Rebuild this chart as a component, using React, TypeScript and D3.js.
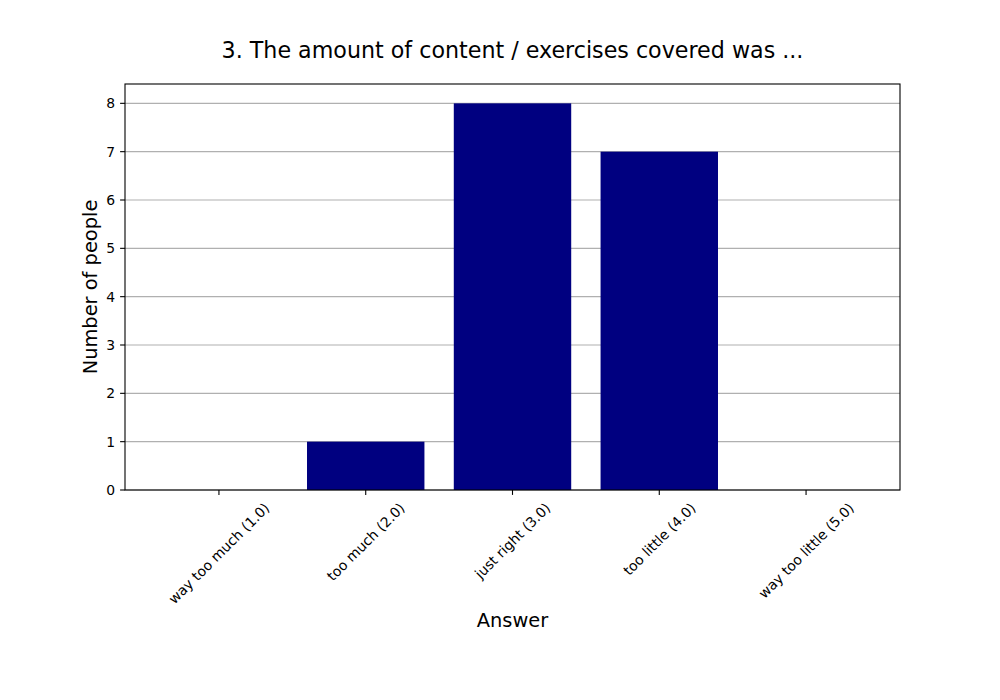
import React, { useEffect, useRef } from 'react';
import * as d3 from 'd3';

const categories = ['way too much (1.0)', 'too much (2.0)', 'just right (3.0)', 'too little (4.0)', 'way too little (5.0)'];
const counts = [0, 1, 8, 7, 0];
const yTicks = [0, 1, 2, 3, 4, 5, 6, 7, 8];

const title = '3. The amount of content / exercises covered was ...';
const xLabel = 'Answer';
const yLabel = 'Number of people';

const App: React.FC = () => {
    const svgRef = useRef<SVGSVGElement | null>(null);

    useEffect(() => {
        const svg = d3.select(svgRef.current);
        svg.selectAll('*').remove();

        const width = 1000;
        const height = 700;
        const margin = { top: 84, right: 100, bottom: 210, left: 125 };
        const innerW = width - margin.left - margin.right;
        const innerH = height - margin.top - margin.bottom;
        const font = '"DejaVu Sans", sans-serif';

        svg.attr('width', width).attr('height', height)
            .style('display', 'block')
            .style('position', 'absolute').style('left', '0px').style('top', '0px')
            .style('font-family', font);
        svg.append('rect').attr('width', width).attr('height', height).attr('fill', '#ffffff');

        // bar positions like matplotlib: centers at 0..n-1, width 0.8, 5% margins
        const n = categories.length;
        const lo = -0.4, hi = n - 1 + 0.4;
        const pad = (hi - lo) * 0.05;
        const x = d3.scaleLinear().domain([lo - pad, hi + pad]).range([0, innerW]);
        const y = d3.scaleLinear().domain([0, (d3.max(counts) || 0) * 1.05]).range([innerH, 0]);

        const g = svg.append('g').attr('transform', `translate(${margin.left},${margin.top})`);

        // grid
        g.selectAll('.grid')
            .data(yTicks)
            .enter().append('line')
            .attr('x1', 0).attr('x2', innerW)
            .attr('y1', d => y(d)).attr('y2', d => y(d))
            .attr('stroke', '#b0b0b0')
            .attr('stroke-width', 1.1);

        // bars
        g.selectAll('.bar')
            .data(counts)
            .enter().append('rect')
            .attr('x', (_, i) => x(i - 0.4))
            .attr('width', x(0.4) - x(-0.4))
            .attr('y', d => y(d))
            .attr('height', d => innerH - y(d))
            .attr('fill', '#000080');

        // frame
        g.append('rect')
            .attr('width', innerW).attr('height', innerH)
            .attr('fill', 'none').attr('stroke', '#000').attr('stroke-width', 1.1);

        // y ticks
        const yt = g.selectAll('.ytick').data(yTicks).enter().append('g')
            .attr('transform', d => `translate(0,${y(d)})`);
        yt.append('line').attr('x1', -4.9).attr('x2', 0).attr('stroke', '#000').attr('stroke-width', 1.1);
        yt.append('text')
            .attr('x', -9.8).attr('dy', '0.35em')
            .attr('text-anchor', 'end').attr('font-size', 13.9).attr('fill', '#000')
            .text(d => d);

        // x ticks with rotated labels centred on tick
        categories.forEach((c, i) => {
            const cx = x(i);
            g.append('line')
                .attr('x1', cx).attr('x2', cx).attr('y1', innerH).attr('y2', innerH + 4.9)
                .attr('stroke', '#000').attr('stroke-width', 1.1);
            const t = g.append('text')
                .attr('text-anchor', 'middle')
                .attr('dominant-baseline', 'central')
                .attr('font-size', 13.9).attr('fill', '#000')
                .text(c);
            const node = t.node() as SVGTextElement;
            const w = node.getComputedTextLength();
            const h = 16;
            const s = Math.SQRT1_2;
            const half = (w * s + h * s) / 2;
            const cy = innerH + 9.8 + half;
            t.attr('x', cx).attr('y', cy).attr('transform', `rotate(-45,${cx},${cy})`);
        });

        // labels
        svg.append('text')
            .attr('x', margin.left + innerW / 2).attr('y', 50)
            .attr('text-anchor', 'middle').attr('dominant-baseline', 'central')
            .attr('font-size', 22.2).attr('fill', '#000')
            .text(title);

        svg.append('text')
            .attr('x', margin.left + innerW / 2).attr('y', 620)
            .attr('text-anchor', 'middle').attr('dominant-baseline', 'central')
            .attr('font-size', 19.4).attr('fill', '#000')
            .text(xLabel);

        svg.append('text')
            .attr('transform', `translate(90,${margin.top + innerH / 2}) rotate(-90)`)
            .attr('text-anchor', 'middle').attr('dominant-baseline', 'central')
            .attr('font-size', 19.4).attr('fill', '#000')
            .text(yLabel);
    }, []);

    return <svg ref={svgRef}></svg>;
};

export default App;
